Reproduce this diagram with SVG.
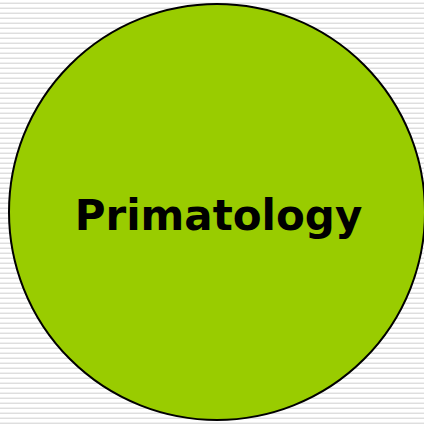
<svg xmlns="http://www.w3.org/2000/svg" width="424" height="424" viewBox="0 0 424 424">
  <defs>
    <pattern id="stripes" x="0" y="0" width="10" height="5" patternUnits="userSpaceOnUse">
      <rect width="10" height="5" fill="#ffffff"/>
      <rect y="2" width="10" height="1" fill="#f0f0f0"/>
      <rect y="3" width="10" height="1" fill="#dedede"/>
    </pattern>
  </defs>
  <style>
    .node-shape { fill: #99cc00; stroke: #000000; stroke-width: 2; }
    .label { font-family: "DejaVu Sans", Verdana, sans-serif; font-weight: bold; font-size: 42px; fill: #000000; }
  </style>
  <rect width="424" height="424" fill="url(#stripes)"/>
  <g id="connectors"></g>
  <g id="primatology">
    <circle class="node-shape" cx="217" cy="212" r="208"/>
    <text class="label" x="218.5" y="230" text-anchor="middle">Primatology</text>
  </g>
</svg>
